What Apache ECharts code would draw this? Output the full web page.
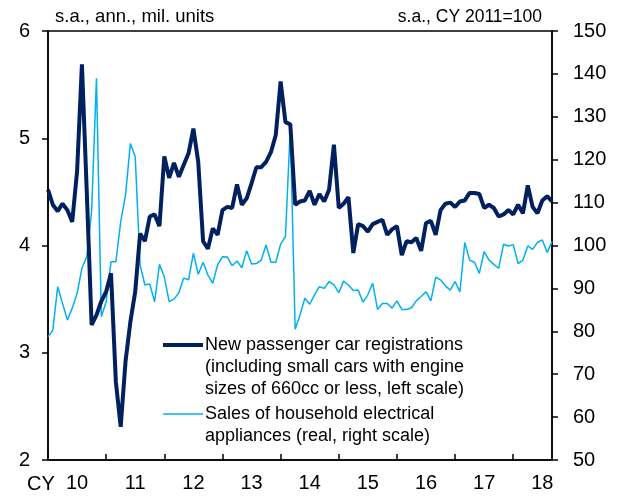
<!DOCTYPE html>
<html>
<head>
<meta charset="utf-8">
<script src="https://cdn.jsdelivr.net/npm/echarts@6/dist/echarts.min.js"></script>
<style>
html,body{margin:0;padding:0;background:#fff;}
#chart{width:619px;height:497px;}
</style>
</head>
<body>
<div id="chart"></div>
<script>
// Monthly data, Jan 2010 - Sep 2018
var yearLabels = ['10','11','12','13','14','15','16','17','18'];
var carRegistrations = [
4.52,4.38,4.32,4.39,4.33,4.22,4.69,5.69,4.50,3.26,3.35,3.48,
3.57,3.74,2.73,2.31,2.92,3.29,3.57,4.11,4.04,4.27,4.29,4.18,
4.83,4.63,4.77,4.64,4.75,4.86,5.09,4.78,4.04,3.97,4.16,4.10,
4.33,4.36,4.35,4.57,4.38,4.44,4.58,4.73,4.73,4.78,4.87,5.03,
5.53,5.15,5.13,4.38,4.41,4.42,4.51,4.38,4.48,4.41,4.52,4.94,
4.35,4.39,4.45,3.93,4.20,4.18,4.13,4.20,4.22,4.24,4.10,4.15,
4.18,3.91,4.04,4.03,4.07,3.95,4.21,4.23,4.10,4.33,4.39,4.40,
4.36,4.41,4.42,4.49,4.49,4.48,4.35,4.38,4.35,4.27,4.29,4.33,
4.29,4.38,4.30,4.56,4.36,4.30,4.42,4.46,4.41
];
var applianceSales = [
78.7,80.3,90.4,86.5,82.6,85.4,88.8,94.7,97.4,107.9,139.0,83.4,
86.9,96.2,96.2,105.5,111.8,123.8,120.7,95.5,90.8,91.0,86.9,95.6,
92.7,86.9,87.5,89.0,92.4,92.0,98.2,93.3,96.1,93.1,91.2,95.5,
97.4,97.3,95.3,96.4,94.8,98.8,95.7,95.8,96.6,100.1,96.1,96.1,
100.3,102.1,127.7,80.5,83.8,87.7,86.3,88.5,90.4,90.0,91.6,90.8,
89.0,91.7,90.8,89.5,89.6,86.8,88.5,91.2,85.1,86.5,86.5,85.4,
87.1,85.1,85.1,85.5,87.1,88.1,89.2,87.1,92.6,92.0,90.6,89.6,
91.6,89.2,100.7,96.6,96.1,93.5,98.6,96.6,95.6,94.7,100.3,99.9,
100.2,95.8,96.6,99.9,99.1,100.7,101.3,98.4,100.9
];
var seriesNames = [
  'New passenger car registrations (including small cars with engine sizes of 660cc or less, left scale)',
  'Sales of household electrical appliances (real, right scale)'
];
var legendLines = [
  ['New passenger car registrations','(including small cars with engine','sizes of 660cc or less, left scale)'],
  ['Sales of household electrical','appliances (real, right scale)']
];
var leftTitle = 's.a., ann., mil. units';
var rightTitle = 's.a., CY 2011=100';

var chart = echarts.init(document.getElementById('chart'), null, {renderer:'canvas'});
var nMonths = carRegistrations.length;
var yearTicks = [], yearMids = [];
for (var k = 0; k < yearLabels.length; k++) { yearTicks.push(k*12); yearMids.push(k*12+6); }
var FONT = 'Liberation Sans, Arial, sans-serif';
var DARK = '#002060', LIGHT = '#00b0f0';

function toPairs(arr){ return arr.map(function(v,i){ return [i, v]; }); }

var option = {
  animation: false,
  backgroundColor: '#fff',
  textStyle: {fontFamily: FONT},
  grid: {left: 48, right: 67, top: 31, bottom: 37, show: true, borderColor: '#000', borderWidth: 1.5, containLabel: false},
  xAxis: {
    type: 'value', min: 0, max: nMonths - 1,
    splitLine: {show: false},
    axisLine: {lineStyle: {color: '#000', width: 1.5}},
    axisTick: {inside: true, length: 6, lineStyle: {color:'#000', width: 1.5}, customValues: yearTicks},
    axisLabel: {customValues: yearMids, margin: 13, color: '#000', fontSize: 20, fontFamily: FONT,
      formatter: function(v){ return yearLabels[Math.floor(v/12)]; }}
  },
  yAxis: [
    {type: 'value', min: 2, max: 6, interval: 1, position: 'left',
      splitLine: {show: false},
      axisLine: {show: true, lineStyle: {color: '#000', width: 1.5}},
      axisTick: {show: true, inside: false, length: 6, lineStyle: {color:'#000', width: 1.5}},
      axisLabel: {margin: 18, color: '#000', fontSize: 20, fontFamily: FONT}},
    {type: 'value', min: 50, max: 150, interval: 10, position: 'right',
      splitLine: {show: false},
      axisLine: {show: true, lineStyle: {color: '#000', width: 1.5}},
      axisTick: {show: true, inside: false, length: 6, lineStyle: {color:'#000', width: 1.5}},
      axisLabel: {margin: 21, color: '#000', fontSize: 20, fontFamily: FONT}}
  ],
  legend: [
    {data: [seriesNames[0]], left: 163, top: 290, padding: 0, orient: 'vertical',
      icon: 'rect', itemWidth: 40, itemHeight: 4, itemGap: 0, selectedMode: false,
      textStyle: {color: '#000', fontSize: 18, lineHeight: 22, fontFamily: FONT, padding: [0,0,0,-3]},
      formatter: function(){ return '\n\n' + legendLines[0].join('\n'); }},
    {data: [seriesNames[1]], left: 163, top: 381, padding: 0, orient: 'vertical',
      icon: 'rect', itemWidth: 40, itemHeight: 1.5, itemGap: 0, selectedMode: false,
      textStyle: {color: '#000', fontSize: 18, lineHeight: 22, fontFamily: FONT, padding: [0,0,0,-3]},
      formatter: function(){ return '\n' + legendLines[1].join('\n'); }}
  ],
  graphic: [
    {type: 'text', x: 55, y: 17, style: {text: leftTitle, fill: '#000', font: '18.5px ' + FONT, verticalAlign: 'middle', align: 'left'}},
    {type: 'text', x: 542, y: 17, style: {text: rightTitle, fill: '#000', font: '17.5px ' + FONT, verticalAlign: 'middle', align: 'right'}},
    {type: 'text', x: 27, y: 484, style: {text: 'CY', fill: '#000', font: '20px ' + FONT, verticalAlign: 'middle', align: 'left'}}
  ],
  series: [
    {name: seriesNames[1], type: 'line', yAxisIndex: 1, data: toPairs(applianceSales),
      showSymbol: false, symbol: 'none', lineStyle: {color: LIGHT, width: 1.5}, itemStyle: {color: LIGHT}, z: 2},
    {name: seriesNames[0], type: 'line', yAxisIndex: 0, data: toPairs(carRegistrations),
      showSymbol: false, symbol: 'none', lineStyle: {color: DARK, width: 4}, itemStyle: {color: DARK}, z: 3}
  ]
};
chart.setOption(option);
</script>
</body>
</html>
